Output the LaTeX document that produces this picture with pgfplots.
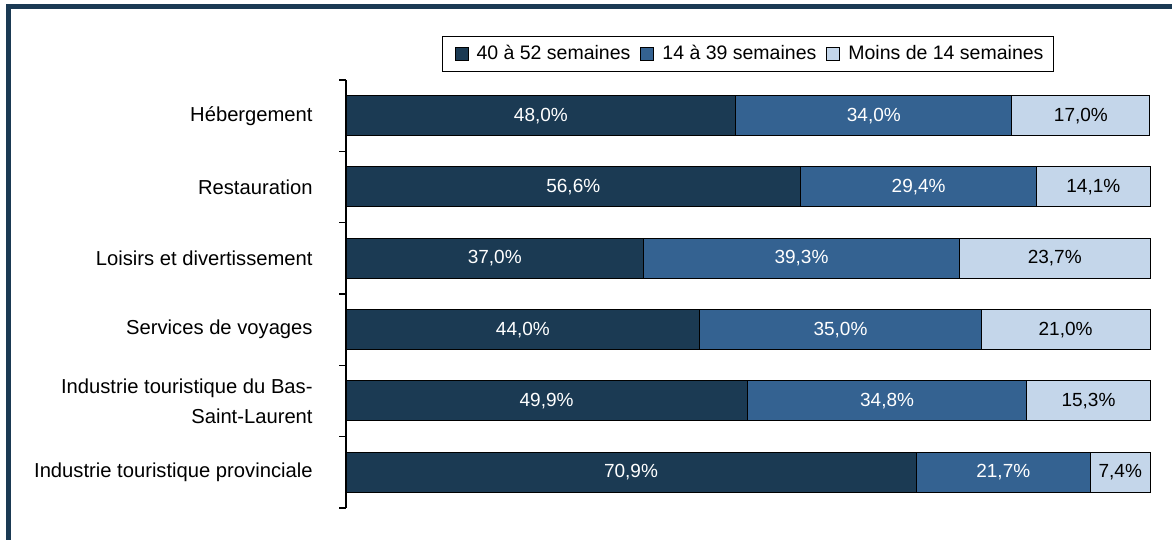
\documentclass[border=0pt]{standalone}
\usepackage{pgfplots}
\pgfplotsset{compat=1.18}
\usepackage{fontspec}
\setmainfont{Liberation Sans}
\definecolor{cdark}{RGB}{27,58,83}
\definecolor{cmid}{RGB}{52,98,145}
\definecolor{clight}{RGB}{196,214,234}
\definecolor{cborder}{RGB}{27,58,84}
\begin{document}
\begin{tikzpicture}
\path[use as bounding box] (0,0) rectangle (586pt,270pt);
\draw[cborder, line width=2.5pt] (4.25pt,0pt) -- (4.25pt,266.75pt) -- (586pt,266.75pt);
\begin{axis}[
  at={(173pt,230pt)}, anchor=north west,
  scale only axis, width=402pt, height=214pt,
  xbar stacked, bar width=20pt,
  xmin=0, xmax=100, ymin=-0.5, ymax=5.5, y dir=reverse,
  axis x line=none, axis y line=left,
  axis line style={-, line width=1pt, black},
  ytick={0,1,2,3,4,5},
  yticklabels={H\'ebergement, Restauration, Loisirs et divertissement, Services de voyages, {Industrie touristique du Bas-\\Saint-Laurent}, Industrie touristique provinciale},
  yticklabel style={font=\fontsize{10.1}{15}\selectfont, align=right, inner sep=0pt, xshift=-16.5pt},
  major tick length=0pt,
  minor ytick={-0.5,0.5,...,5.5},
  minor tick length=3.5pt,
  tick align=outside,
  minor tick style={black, line width=0.7pt},
  clip=false,
  legend columns=3,
  legend style={at={(0.5,1)}, anchor=south, yshift=4pt, draw=black, line width=0.5pt,
    font=\fontsize{9.75}{11}\selectfont, inner ysep=2.5pt, inner xsep=3pt,
    /tikz/every odd column/.append style={column sep=2pt},
    /tikz/every even column/.append style={column sep=0pt}},
  legend image code/.code={\path (0pt,0pt); \draw[#1,draw=black,line width=0.5pt] (3pt,-3.25pt) rectangle (9.5pt,3.25pt);},
  nodes near coords={\pgfplotspointmeta\%},
  point meta=explicit symbolic,
  every node near coord/.append style={font=\fontsize{9.5}{10}\selectfont, anchor=center},
]
\addplot[fill=cdark, draw=black, line width=0.5pt,
  every node near coord/.append style={white}] table[x=w, y=y, meta=l] {
y w l
0 48.48 48,0
1 56.54 56,6
2 37.0 37,0
3 44.0 44,0
4 49.9 49,9
5 70.9 70,9
};
\addlegendentry{40 \`a 52 semaines}
\addplot[fill=cmid, draw=black, line width=0.5pt,
  every node near coord/.append style={white}] table[x=w, y=y, meta=l] {
y w l
0 34.34 34,0
1 29.37 29,4
2 39.3 39,3
3 35.0 35,0
4 34.8 34,8
5 21.7 21,7
};
\addlegendentry{14 \`a 39 semaines}
\addplot[fill=clight, draw=black, line width=0.5pt,
  every node near coord/.append style={black}] table[x=w, y=y, meta=l] {
y w l
0 17.17 17,0
1 14.09 14,1
2 23.7 23,7
3 21.0 21,0
4 15.3 15,3
5 7.4 7,4
};
\addlegendentry{Moins de 14 semaines}
\end{axis}
\end{tikzpicture}
\end{document}
